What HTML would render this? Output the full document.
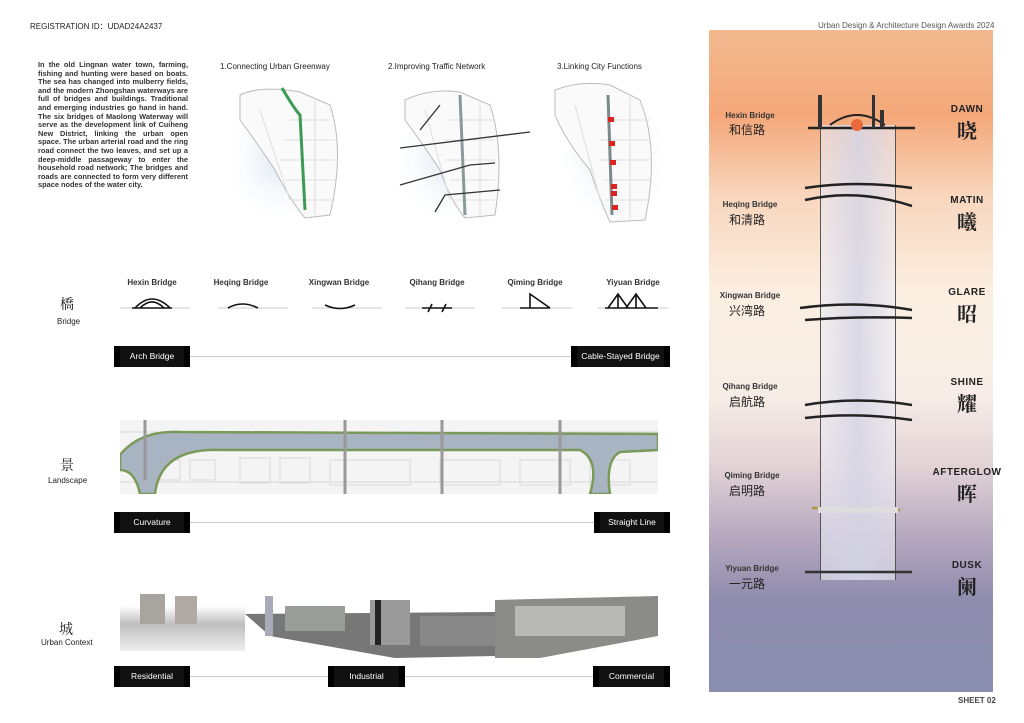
<!DOCTYPE html>
<html><head><meta charset="utf-8"><style>
*{margin:0;padding:0;box-sizing:border-box}
body{width:1024px;height:723px;background:#fff;position:relative;overflow:hidden;font-family:"Liberation Sans","Noto Sans CJK SC",sans-serif;color:#222}
.a{position:absolute;white-space:nowrap}
.tag{position:absolute;background:#111;color:#fff;font-size:8.5px;height:21px;line-height:21px;text-align:center;border-left:6px solid #000;border-right:6px solid #000}
.line{position:absolute;height:1px;background:#ccc}
.bl{font-size:8px;font-weight:bold;color:#333;text-align:center;width:90px;margin-left:-45px}
.cn{font-size:12px;color:#222}
.rt{font-size:10px;font-weight:bold;letter-spacing:.5px;text-align:center;width:70px;margin-left:-35px}
.rc{font-size:20px;font-family:"Noto Serif CJK SC",serif;font-weight:bold;text-align:center;width:70px;margin-left:-35px}
</style></head><body>
<div class="a" style="left:30px;top:21px;font-size:8px">REGISTRATION ID：UDAD24A2437</div>
<div class="a" style="left:818px;top:21px;font-size:8px;color:#555">Urban Design &amp; Architecture Design Awards 2024</div>
<div class="a" style="left:38px;top:61px;width:150px;white-space:normal;font-size:7.4px;line-height:8.6px;font-weight:bold;text-align:justify;color:#333">In the old Lingnan water town, farming, fishing and hunting were based on boats. The sea has changed into mulberry fields, and the modern Zhongshan waterways are full of bridges and buildings. Traditional and emerging industries go hand in hand. The six bridges of Maolong Waterway will serve as the development link of Cuiheng New District, linking the urban open space. The urban arterial road and the ring road connect the two leaves, and set up a deep-middle passageway to enter the household road network; The bridges and roads are connected to form very different space nodes of the water city.</div>
<div class="a" style="left:220px;top:62px;font-size:8px">1.Connecting Urban Greenway</div>
<div class="a" style="left:388px;top:62px;font-size:8px">2.Improving Traffic Network</div>
<div class="a" style="left:557px;top:62px;font-size:8px">3.Linking City Functions</div>
<svg class="a" style="left:200px;top:80px" width="500" height="145" viewBox="200 80 500 145">
<defs><radialGradient id="g"><stop offset="0" stop-color="#dde6f0"/><stop offset="1" stop-color="#fff" stop-opacity="0"/></radialGradient></defs>
<g fill="url(#g)"><ellipse cx="280" cy="160" rx="60" ry="70"/><ellipse cx="450" cy="160" rx="60" ry="70"/><ellipse cx="615" cy="160" rx="60" ry="70"/></g>
<g fill="#fafafa" stroke="#bbb" stroke-width="1">
<path d="M240 95 Q260 85 300 92 L330 105 Q345 150 330 215 L305 218 Q290 200 275 170 Q255 140 240 120Z"/>
<path d="M405 100 Q430 88 460 92 L490 105 Q505 150 495 215 L465 218 Q450 200 440 170 Q420 140 405 120Z"/>
<path d="M555 90 Q580 80 610 85 L640 100 Q660 150 645 220 L610 222 Q600 200 590 170 Q565 140 555 115Z"/>
</g>
<g stroke="#ddd" stroke-width="1"><path d="M290 120 H330 M285 140H335 M280 160H335 M285 180H335 M290 200H335 M450 120H495 M445 140H495 M445 160H495 M450 180H495 M455 200H495 M605 120H650 M600 140H650 M600 160H650 M605 180H650 M605 200H650 M315 100V215 M480 100V215 M630 95V220 M260 110 L290 200 M425 110 L450 200 M575 105 L600 200"/></g>
<path d="M282 88 Q295 110 300 115 L305 210" stroke="#3c9a55" stroke-width="3" fill="none"/>
<path d="M460 95 L465 215" stroke="#8a9a9a" stroke-width="3" fill="none"/>
<g stroke="#333" stroke-width="1.3" fill="none"><path d="M420 130 L440 105 M400 148 L530 132 M400 185 L470 165 L495 163 M435 212 L445 195 L500 190"/></g>
<path d="M608 95 L612 215" stroke="#7a8a8a" stroke-width="3"/>
<g fill="#d22"><rect x="608" y="117" width="6" height="5"/><rect x="609" y="141" width="6" height="5"/><rect x="610" y="160" width="6" height="5"/><rect x="611" y="184" width="6" height="5"/><rect x="611" y="191" width="6" height="5"/><rect x="612" y="205" width="6" height="5"/></g>
</svg>
<div class="a cn" style="left:60px;top:294px;font-family:'Noto Serif CJK SC',serif;font-size:14px">橋</div>
<div class="a" style="left:57px;top:317px;font-size:8px">Bridge</div>
<div class="a cn" style="left:60px;top:455px;font-family:'Noto Serif CJK SC',serif;font-size:14px">景</div>
<div class="a" style="left:48px;top:476px;font-size:8px">Landscape</div>
<div class="a cn" style="left:59px;top:619px;font-family:'Noto Serif CJK SC',serif;font-size:14px">城</div>
<div class="a" style="left:41px;top:638px;font-size:8px">Urban Context</div>
<div class="a bl" style="left:152px;top:278px">Hexin Bridge</div>
<div class="a bl" style="left:241px;top:278px">Heqing Bridge</div>
<div class="a bl" style="left:339px;top:278px">Xingwan Bridge</div>
<div class="a bl" style="left:437px;top:278px">Qihang Bridge</div>
<div class="a bl" style="left:535px;top:278px">Qiming Bridge</div>
<div class="a bl" style="left:633px;top:278px">Yiyuan Bridge</div>
<svg class="a" style="left:100px;top:290px" width="580" height="25" viewBox="100 290 580 25">
<g stroke="#bbb" stroke-width="0.8"><path d="M120 308H190M218 308H288M312 308H382M405 308H475M502 308H572M598 308H668"/></g>
<g stroke="#111" stroke-width="1.6" fill="none">
<path d="M135 308 Q152 290 170 308 M140 308 Q152 296 164 308 M132 308H172"/>
<path d="M228 308 Q242 300 258 308"/>
<path d="M325 305 Q340 312 355 305"/>
<path d="M422 308H452 M428 312 L432 304 M442 312 L446 304"/>
<path d="M520 308H550 M530 308 V294 L550 308"/>
<path d="M605 308H658 M618 308V294 M636 308V294 M608 308L618 294L628 308 M626 308L636 294L646 308"/></g></svg>
<div class="line" style="left:190px;top:356px;width:385px"></div>
<div class="tag" style="left:114px;top:346px;width:76px">Arch Bridge</div>
<div class="tag" style="left:571px;top:346px;width:99px">Cable-Stayed Bridge</div>
<svg class="a" style="left:120px;top:420px" width="538" height="74">
<rect width="538" height="74" fill="#f4f4f4"/>
<g stroke="#d8d8d8" fill="none"><path d="M0 12H538 M0 62H538"/><rect x="40" y="40" width="20" height="20"/><rect x="70" y="40" width="25" height="20"/><rect x="120" y="38" width="30" height="25"/><rect x="160" y="38" width="30" height="25"/><rect x="210" y="40" width="80" height="25"/><rect x="320" y="40" width="60" height="25"/><rect x="400" y="40" width="50" height="25"/><rect x="470" y="40" width="40" height="25"/></g>
<path d="M0 35 Q20 10 60 12 L538 14 L538 30 L500 32 Q485 40 490 74 L470 74 Q480 40 460 30 L100 30 Q40 28 35 74 L20 74 Q15 50 0 50Z" fill="#a9b4c2" stroke="#7a9a5a" stroke-width="2.5"/>
<g stroke="#999" stroke-width="3"><path d="M225 0V74 M322 0V74 M440 0V74 M25 0V60"/></g>
</svg>
<div class="line" style="left:190px;top:522px;width:405px"></div>
<div class="tag" style="left:114px;top:512px;width:76px">Curvature</div>
<div class="tag" style="left:594px;top:512px;width:76px">Straight Line</div>
<svg class="a" style="left:120px;top:586px" width="538" height="72">
<defs><linearGradient id="r" x1="0" y1="0" x2="0" y2="1"><stop offset="0" stop-color="#fff"/><stop offset=".4" stop-color="#bfbfbf"/><stop offset="1" stop-color="#eee"/></linearGradient></defs>
<rect x="0" y="20" width="125" height="45" fill="url(#r)"/>
<rect x="20" y="8" width="25" height="30" fill="#a8a4a0"/><rect x="55" y="10" width="22" height="28" fill="#b0aaa5"/>
<polygon points="125,28 375,26 375,70 275,72 150,50" fill="#777"/>
<rect x="145" y="10" width="8" height="40" fill="#aab"/><rect x="165" y="20" width="60" height="25" fill="#9a9e9a"/>
<rect x="250" y="14" width="40" height="45" fill="#9a9a9a"/><rect x="255" y="14" width="6" height="45" fill="#222"/>
<rect x="300" y="30" width="75" height="30" fill="#888"/>
<polygon points="375,14 538,10 538,50 420,72 375,72" fill="#8b8c88"/>
<rect x="395" y="20" width="110" height="30" fill="#b8b8b4"/>
</svg>
<div class="line" style="left:190px;top:676px;width:405px"></div>
<div class="tag" style="left:114px;top:666px;width:76px">Residential</div>
<div class="tag" style="left:328px;top:666px;width:77px">Industrial</div>
<div class="tag" style="left:593px;top:666px;width:77px">Commercial</div>
<div class="a" style="left:709px;top:30px;width:284px;height:662px;background:linear-gradient(#f2b98e 0%,#f4a87a 13%,#f8d6bd 25%,#fbefe2 40%,#f7ede6 55%,#e2d2d6 66%,#b8aac0 76%,#8f8cad 86%,#8a8fb0 100%)"></div>
<div class="a" style="left:820px;top:125px;width:76px;height:455px;background:linear-gradient(90deg,rgba(235,235,245,.6),rgba(215,215,230,.9),rgba(235,235,245,.6));border-left:1px solid #555;border-right:1px solid #555"></div>
<svg class="a" style="left:790px;top:90px" width="140" height="520" viewBox="790 90 140 520">
<g stroke="#222" fill="none" stroke-width="2.5">
<path d="M808 128H915"/><path d="M830 125 Q857 105 885 125" stroke-width="2"/>
<path d="M805 188 Q857 180 912 188 M805 200 Q857 188 912 206"/>
<path d="M800 308 Q857 300 912 310 M805 320 Q857 316 912 318"/>
<path d="M805 405 Q857 396 912 405 M805 418 Q857 412 912 420"/>
<path d="M812 508 L900 510" stroke="#aa9a40"/>
<path d="M805 572H912" stroke="#333"/></g>
<g fill="#333"><rect x="818" y="95" width="4" height="33"/><rect x="872" y="95" width="3" height="33"/><rect x="880" y="110" width="4" height="18"/></g>
<circle cx="857" cy="125" r="6" fill="#e86a3a"/>
<rect x="818" y="507" width="80" height="6" fill="#ddd"/>
</svg>
<div class="a bl" style="left:750px;top:111px;font-size:8px">Hexin Bridge</div><div class="a cn" style="left:729px;top:121px">和信路</div>
<div class="a bl" style="left:750px;top:200px;font-size:8px">Heqing Bridge</div><div class="a cn" style="left:729px;top:211px">和清路</div>
<div class="a bl" style="left:750px;top:291px;font-size:8px">Xingwan Bridge</div><div class="a cn" style="left:729px;top:302px">兴湾路</div>
<div class="a bl" style="left:750px;top:382px;font-size:8px">Qihang Bridge</div><div class="a cn" style="left:729px;top:393px">启航路</div>
<div class="a bl" style="left:752px;top:471px;font-size:8px">Qiming Bridge</div><div class="a cn" style="left:729px;top:482px">启明路</div>
<div class="a bl" style="left:752px;top:564px;font-size:8px">Yiyuan Bridge</div><div class="a cn" style="left:729px;top:575px">一元路</div>
<div class="a rt" style="left:967px;top:104px">DAWN</div><div class="a rc" style="left:967px;top:115px">晓</div>
<div class="a rt" style="left:967px;top:195px">MATIN</div><div class="a rc" style="left:967px;top:206px">曦</div>
<div class="a rt" style="left:967px;top:287px">GLARE</div><div class="a rc" style="left:967px;top:298px">昭</div>
<div class="a rt" style="left:967px;top:377px">SHINE</div><div class="a rc" style="left:967px;top:388px">耀</div>
<div class="a rt" style="left:967px;top:467px;width:80px;margin-left:-40px">AFTERGLOW</div><div class="a rc" style="left:967px;top:478px">晖</div>
<div class="a rt" style="left:967px;top:560px">DUSK</div><div class="a rc" style="left:967px;top:571px">阑</div>
<div class="a" style="left:958px;top:696px;font-size:8px;font-weight:bold;color:#444">SHEET 02</div>
</body></html>
